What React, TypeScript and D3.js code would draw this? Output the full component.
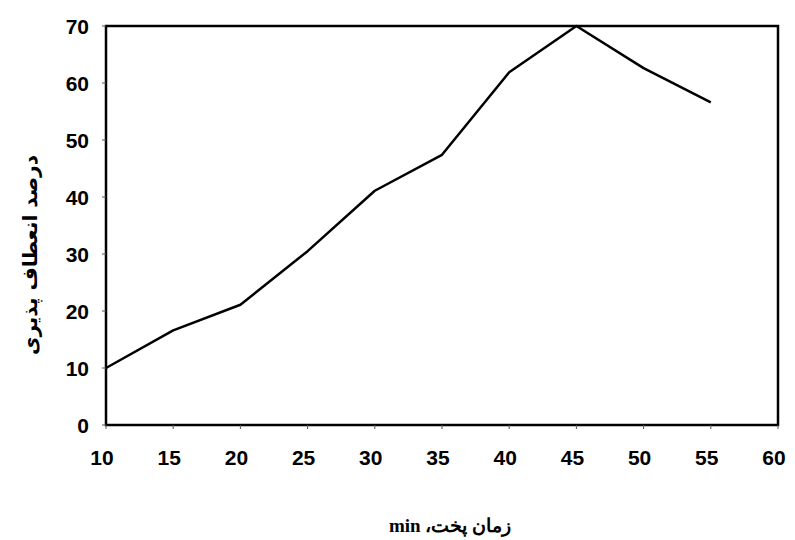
import React from 'react';
import * as d3 from 'd3';

const cookTimes = [10, 15, 20, 25, 30, 35, 40, 45, 50, 55];
const flexibility = [10, 16.6, 21.1, 30.5, 41.1, 47.4, 61.9, 70, 62.6, 56.6];
const xTicks = [10, 15, 20, 25, 30, 35, 40, 45, 50, 55, 60];
const yTicks = [0, 10, 20, 30, 40, 50, 60, 70];
const xTitle = 'زمان پخت، min';
const yTitle = 'درصد انعطاف پذیری';

const width = 795;
const height = 540;
const margin = { top: 26, right: 17, bottom: 115, left: 106 };

export default function App() {
  const x = d3.scaleLinear().domain([10, 60]).range([margin.left, width - margin.right]);
  const y = d3.scaleLinear().domain([0, 70]).range([height - margin.bottom, margin.top]);

  const line = d3.line<number>()
    .x((_, i) => x(cookTimes[i]))
    .y(d => y(d));

  const tickFont = { fontFamily: 'Liberation Sans, Arial, sans-serif', fontSize: 21, fontWeight: 'bold' as const };

  return (
    <div style={{ position: 'absolute', left: 0, top: 0 }}>
      <svg width={width} height={height} style={{ display: 'block', background: '#fff' }}>
        {/* frame */}
        <rect
          x={x(10)} y={y(70)}
          width={x(60) - x(10)} height={y(0) - y(70)}
          fill="none" stroke="#000" strokeWidth={2.5}
        />

        {/* ticks */}
        {yTicks.map(t => (
          <g key={'y' + t}>
            <line x1={x(10) - 4} x2={x(10)} y1={y(t)} y2={y(t)} stroke="#555" strokeWidth={1} />
            <text x={89} y={y(t)} dy="0.36em" textAnchor="end" {...tickFont}>{t}</text>
          </g>
        ))}
        {xTicks.map(t => (
          <g key={'x' + t}>
            <line x1={x(t)} x2={x(t)} y1={y(0)} y2={y(0) + 4} stroke="#555" strokeWidth={1} />
            <text x={x(t) - 4} y={457} dy="0.36em" textAnchor="middle" {...tickFont}>{t}</text>
          </g>
        ))}

        {/* data line */}
        <path d={line(flexibility) || ''} fill="none" stroke="#000" strokeWidth={2.5} strokeLinejoin="round" />

        {/* axis titles */}
        <text
          x={450} y={525} dy="0.36em"
          textAnchor="middle" direction="rtl"
          fontFamily="Liberation Serif, DejaVu Serif, serif" fontSize={19} fontWeight="bold"
        >{xTitle}</text>
        <text
          transform={`translate(30,255) rotate(-90)`}
          dy="0.36em" textAnchor="middle" direction="rtl"
          fontFamily="DejaVu Sans, sans-serif" fontSize={20} fontWeight="bold"
        >{yTitle}</text>
      </svg>
    </div>
  );
}
